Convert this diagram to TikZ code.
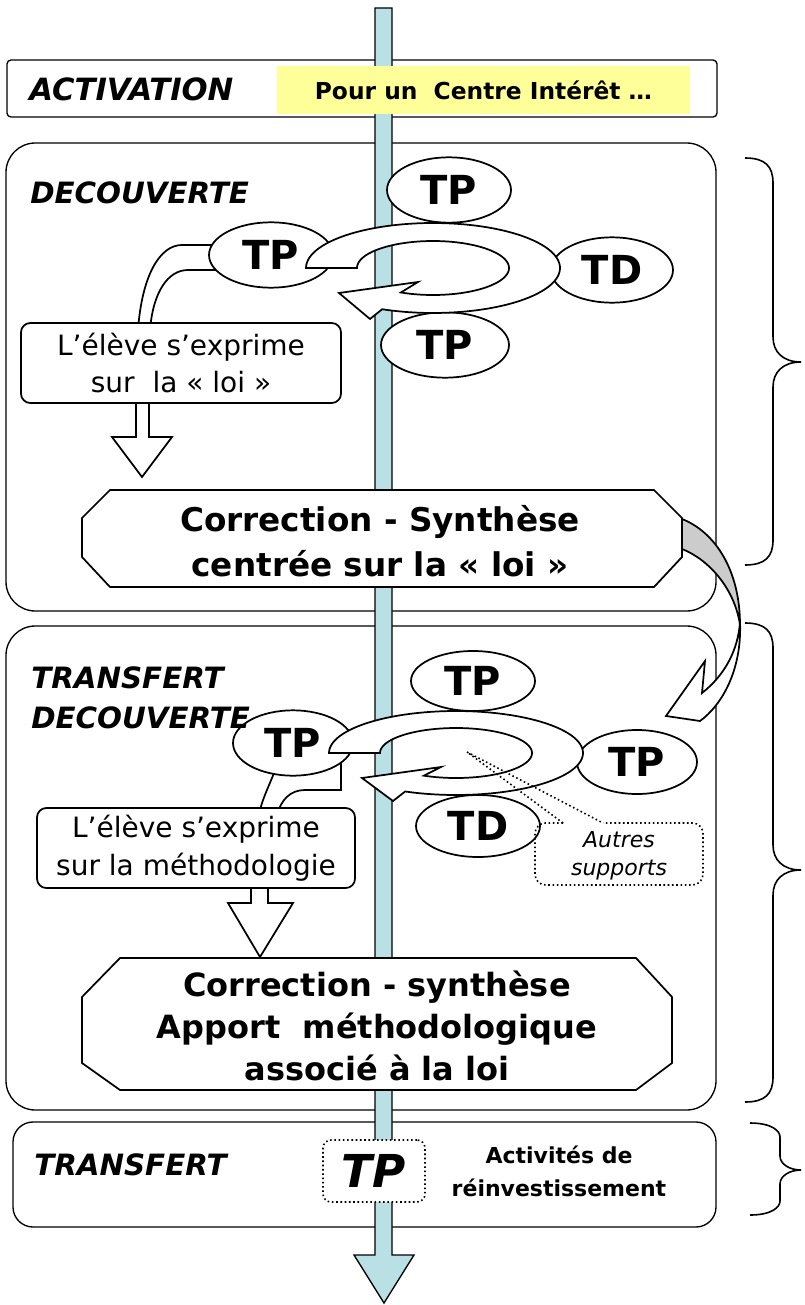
\documentclass[tikz,border=0pt]{standalone}
\usepackage{fontspec}
\setmainfont{DejaVu Sans}
\usetikzlibrary{shapes.geometric,calc}
\definecolor{axisblue}{RGB}{185,224,228}
\definecolor{hlyellow}{RGB}{255,255,153}
\definecolor{backgrey}{RGB}{204,204,204}
\newcommand\mybrace[6]{% x0 ytop ybot ymid xv r
  \draw[brace] (#1,#2) .. controls ({#5-8},#2) and (#5,{#2+8}) .. (#5,{#2+#6})
    -- (#5,{#4-#6}) .. controls (#5,{#4-0.4*#6}) and ({#5+10},#4) .. (801,#4)
    .. controls ({#5+10},#4) and (#5,{#4+0.4*#6}) .. (#5,{#4+#6})
    -- (#5,{#3-#6}) .. controls (#5,{#3-8}) and ({#5-8},#3) .. (#1,#3);}
\newcommand\looparrow[4]{% cx cy ryout ryin
  \draw[band] plot[domain=180:473.6,samples=90] ({#1+127*cos(\x)},{#2+#3*sin(\x)})
    -- ({#1-63},{#2+#3+6}) -- ({#1-94},{#2+25}) -- ({#1-15},{#2+14})
    -- plot[domain=475:180,samples=90] ({#1+76*cos(\x)},{#2+#4*sin(\x)}) -- cycle;}
\begin{document}
\begin{tikzpicture}[x=0.75pt,y=-0.75pt,
  panel/.style={draw, line width=1pt, rounded corners=22pt, inner sep=0pt},
  brace/.style={draw, line width=1.2pt},
  band/.style={draw, fill=white, line width=1.3pt},
  ell/.style={ellipse, draw, fill=white, line width=1.3pt, inner sep=0pt,
    minimum width=93pt, minimum height=49pt, font=\bfseries\fontsize{30}{30}\selectfont},
  txtbox/.style={draw, fill=white, line width=1.3pt, rounded corners=7pt, inner sep=0pt,
    align=center, font=\fontsize{21}{27.5}\selectfont},
  stage/.style={inner sep=0pt, align=left, font=\bfseries\itshape\fontsize{22}{30}\selectfont},
  hexbox/.style={draw, fill=white, line width=1.3pt},
  hextext/.style={inner sep=0pt, align=center, font=\bfseries\fontsize{24.5}{33.75}\selectfont},
  callout/.style={dotted, line width=1.2pt},
]
\useasboundingbox (0,0) rectangle (804,1305);
\fill[white] (0,0) rectangle (804,1305);

% panels
\node[panel, rounded corners=3pt, minimum width=532.5pt, minimum height=42.75pt] (act) at (362,88.5) {};
\node[panel, minimum width=532.5pt, minimum height=351pt] (p1) at (361,377) {};
\node[panel, minimum width=532.5pt, minimum height=363pt] (p2) at (361,868) {};
\node[panel, rounded corners=15pt, minimum width=527.25pt, minimum height=78.75pt] (p3) at (364.5,1174.5) {};

% braces
\mybrace{745}{158}{565}{362}{773}{25}
\mybrace{745}{623}{1102}{870}{773}{25}
\mybrace{750}{1123}{1215}{1170}{780}{14}

% axis
\draw[fill=axisblue, line width=1pt] (375,8) -- (392,8) -- (392,1255) -- (414,1255)
  -- (384,1303) -- (354,1255) -- (375,1255) -- cycle;

% activation
\node[fill=hlyellow, inner sep=0pt, minimum width=309.75pt, minimum height=36pt,
  font=\bfseries\fontsize{17.5}{20}\selectfont] (yel) at (483.5,90) {Pour un\ \ Centre Intérêt …};
\node[stage, anchor=west, font=\bfseries\itshape\fontsize{23}{23}\selectfont] (actl) at (29,89) {ACTIVATION};

% ---------- panel 1
\draw[band] (225,245) -- (182,245) .. controls (160,245) and (142,275) .. (138,330)
  -- (150,330) .. controls (153,292) and (168,270) .. (188,270) -- (225,270) -- cycle;
\draw[band] (136,398) -- (136,437) -- (112,437) -- (142,477) -- (172,437) -- (149,437) -- (149,398) -- cycle;
\node[txtbox, minimum width=240pt, minimum height=60pt] (box1) at (181,363) {L’élève s’exprime\\sur\ \ la « loi »};
\node[ell] (tp1a) at (449,190) {TP};
\node[ell] (tp1b) at (271,255) {TP};
\node[ell, minimum width=91.5pt] (td1) at (612,270) {TD};
\node[ell, minimum width=96pt] (tp1c) at (445,345) {TP};
\looparrow{433}{268}{45}{27}
\draw[hexbox] (110,490) -- (654,490) -- (682,518) -- (682,557) -- (654,587) -- (110,587)
  -- (82,557) -- (82,518) -- cycle;
\node[hextext] (hex1) at (380,541) {Correction - Synthèse\\centrée sur la « loi »};
\node[stage, anchor=west] (dec) at (30,193) {DECOUVERTE};

% ---------- panel 2
\draw[band] (279,760) .. controls (270,785) and (262,798) .. (259,815) -- (277,815)
  .. controls (281,800) and (290,790) .. (305,790) -- (341,790) -- (341,760) -- cycle;
\draw[band] (251,884) -- (251,903) -- (228,903) -- (260,957) -- (293,903) -- (268,903) -- (268,884) -- cycle;
\node[txtbox, minimum width=238.5pt, minimum height=60pt, font=\fontsize{21}{28.5}\selectfont] (box2) at (196,848) {L’élève s’exprime\\sur la méthodologie};
\node[ell, minimum height=45pt] (tp2a) at (473,681) {TP};
\node[ell, minimum width=90pt] (tp2b) at (293,743) {TP};
\node[ell, minimum width=90pt, minimum height=48pt] (tp2c) at (637,762) {TP};
\node[ell, minimum height=46.5pt] (td2) at (478,826) {TD};
\looparrow{456}{753}{42}{25}
\node[inner sep=0pt, align=center, font=\itshape\fontsize{16.5}{21}\selectfont] (autres) at (619,856) {Autres\\supports};
\coordinate (ptr) at (467,752);
\coordinate (ptrL) at (563,823);
\coordinate (ptrR) at (603,823);
\draw[callout, rounded corners=8pt] (ptrL) -- (535,823) -- (535,885) -- (703,885) -- (703,823) -- (ptrR);
\draw[callout] (ptrL) -- (ptr) -- (ptrR);
\draw[hexbox] (120,958) -- (636,958) -- (672,997) -- (672,1063) -- (636,1090) -- (120,1090)
  -- (82,1063) -- (82,997) -- cycle;
\node[hextext, font=\bfseries\fontsize{24}{31.5}\selectfont] (hex2) at (377,1026) {Correction - synthèse\\Apport\ \ méthodologique\\associé à la loi};
\node[stage, anchor=west] (tdec) at (31,698) {TRANSFERT\\DECOUVERTE};

% curved arrow from panel 1 to panel 2
\draw[fill=backgrey, line width=1.3pt] (682,519) .. controls (715,532) and (740,570) .. (740,625)
  .. controls (735,590) and (710,560) .. (682,549) -- cycle;
\draw[band] (740,622) .. controls (738,650) and (725,675) .. (702,693) -- (705,661) -- (666,716)
  -- (700,721) .. controls (722,705) and (742,670) .. (740,622) -- cycle;

% ---------- panel 3
\node[stage, anchor=west] (tr) at (34,1165) {TRANSFERT};
\node[draw, dotted, fill=white, line width=1.2pt, rounded corners=6pt, inner sep=0pt,
  minimum width=76.5pt, minimum height=46.5pt,
  font=\bfseries\itshape\fontsize{34}{34}\selectfont] (tp3) at (374,1171) {TP};
\node[inner sep=0pt, align=center, font=\bfseries\fontsize{16.5}{24.75}\selectfont] (act3) at (559,1171) {Activités de\\réinvestissement};
\end{tikzpicture}
\end{document}
